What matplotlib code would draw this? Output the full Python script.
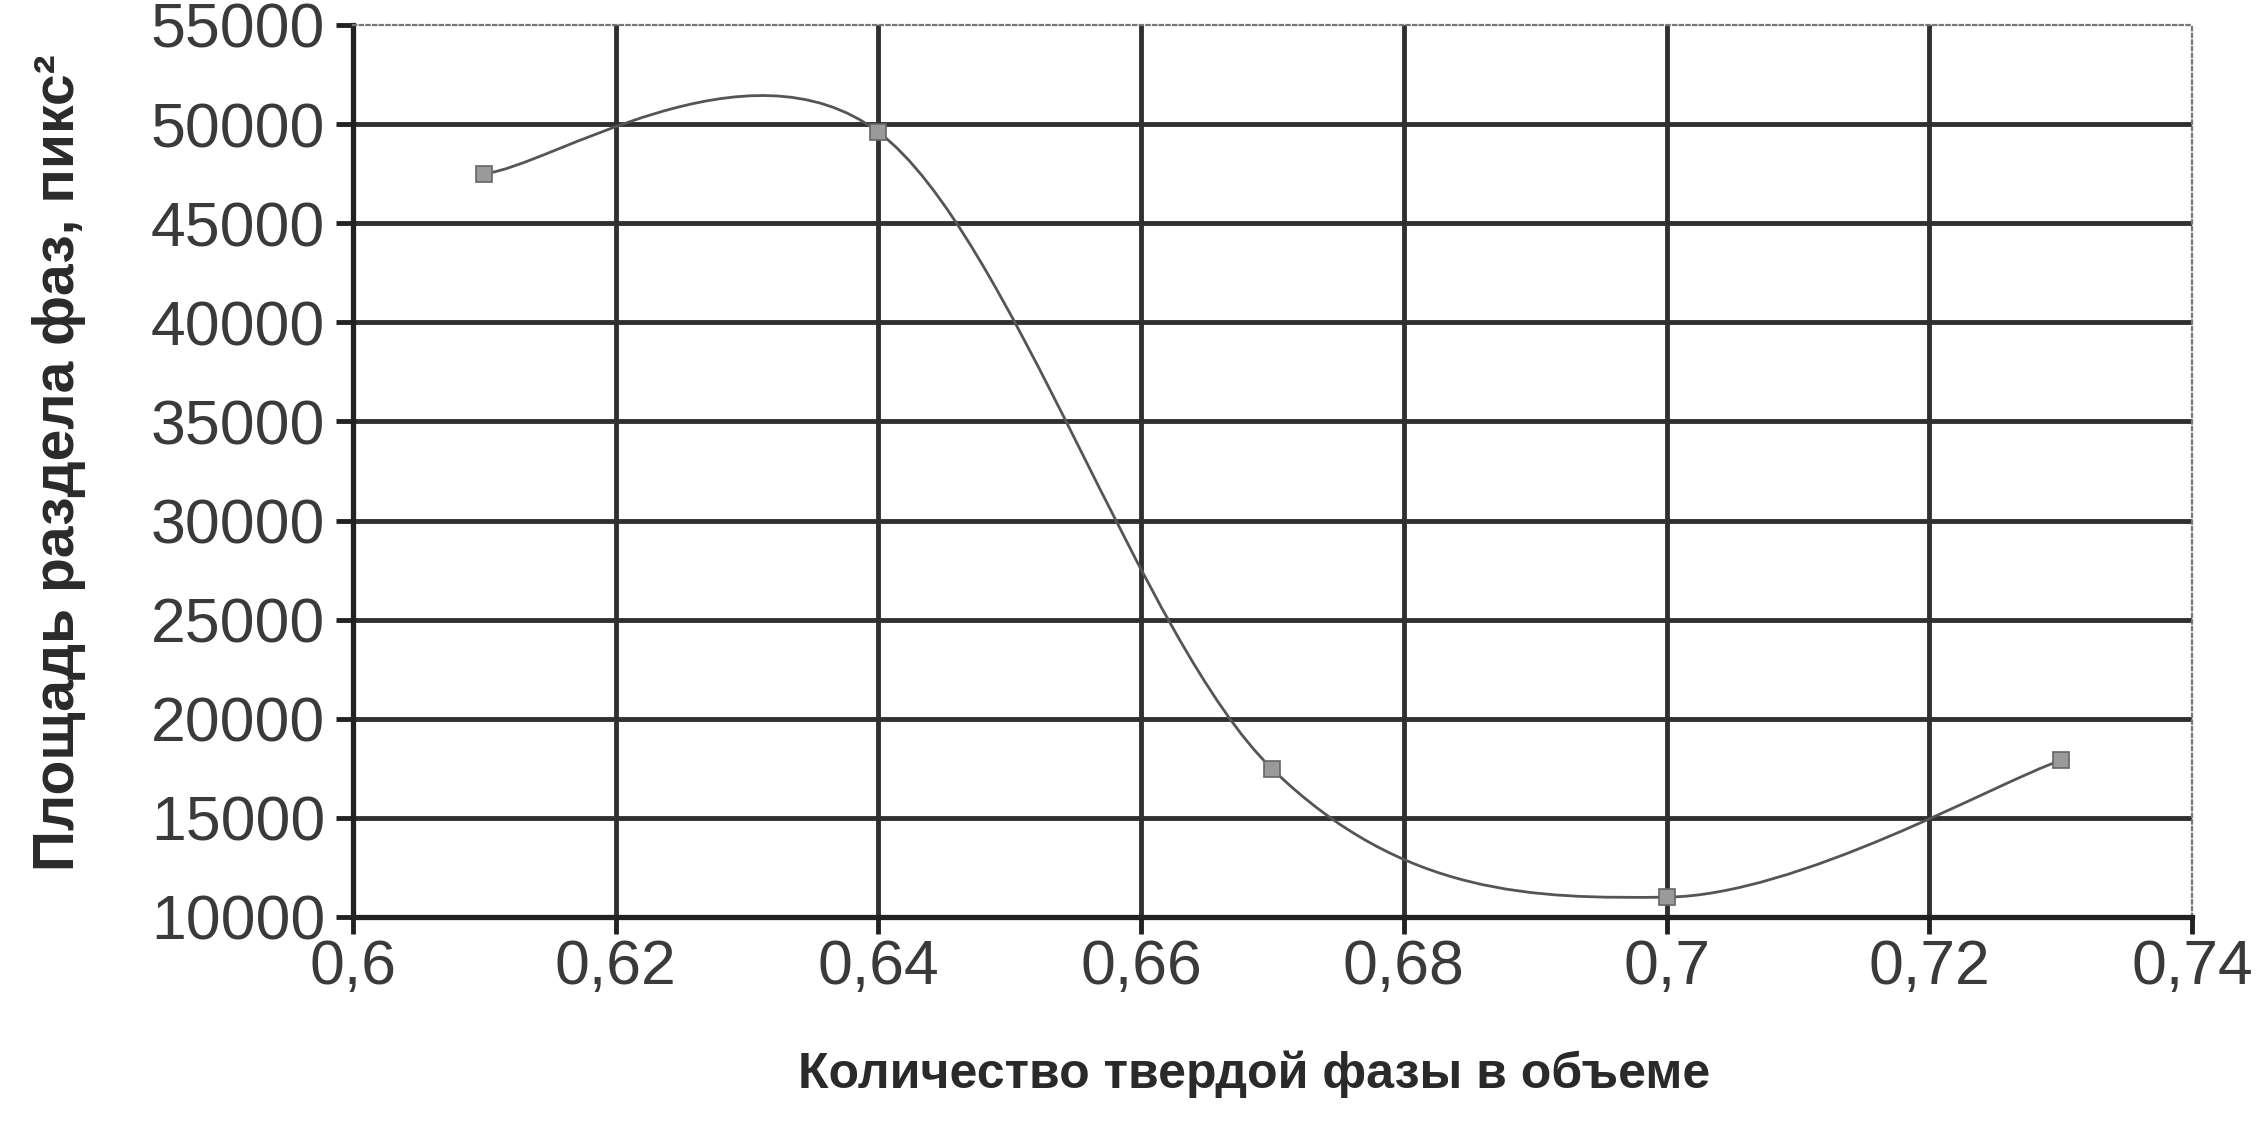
import numpy as np
import matplotlib
matplotlib.use("Agg")
import matplotlib.pyplot as plt
from matplotlib.path import Path
from matplotlib.patches import PathPatch

# data
solid_frac = [0.61, 0.64, 0.67, 0.70, 0.73]
area_px = [47500, 49600, 17450, 11000, 17900]

x_ticks = [0.60, 0.62, 0.64, 0.66, 0.68, 0.70, 0.72, 0.74]
x_labels = ["0,6", "0,62", "0,64", "0,66", "0,68", "0,7", "0,72", "0,74"]
y_ticks = [10000, 15000, 20000, 25000, 30000, 35000, 40000, 45000, 50000, 55000]

x_title = "Количество твердой фазы в объеме"
y_title = "Площадь раздела фаз, пикс²"


# Excel-like smoothed line: cubic Bezier segments through the points
def smooth_path(xs, ys):
    p = np.column_stack([xs, ys]).astype(float)
    n = len(p)
    verts = [p[0]]
    codes = [Path.MOVETO]
    for i in range(n - 1):
        prev = p[i - 1] if i > 0 else p[i]
        nxt = p[i + 2] if i + 2 < n else p[i + 1]
        c1 = p[i] + (p[i + 1] - prev) / 6.0
        c2 = p[i + 1] - (nxt - p[i]) / 6.0
        verts += [c1, c2, p[i + 1]]
        codes += [Path.CURVE4] * 3
    return Path(verts, codes)


plt.rcParams['font.family'] = ['Liberation Sans', 'DejaVu Sans']

fig = plt.figure(figsize=(22.61, 11.21), dpi=100)
ax = fig.add_axes([0.1561, 0.1820, 0.8134, 0.7957])

grid_col = '#303030'
ax.set_xlim(0.60, 0.74)
ax.set_ylim(10000, 55000)
ax.set_xticks(x_ticks)
ax.set_xticklabels(x_labels)
ax.set_yticks(y_ticks)
ax.set_yticklabels([str(v) for v in y_ticks])

ax.grid(True, color=grid_col, linewidth=3.5)
ax.set_axisbelow(True)
# top / right borders are dotted, no grid line over them
ax.yaxis.get_gridlines()[-1].set_visible(False)
ax.xaxis.get_gridlines()[-1].set_visible(False)

for s in ['left', 'bottom']:
    ax.spines[s].set_color('#222222')
    ax.spines[s].set_linewidth(3.8)
for s in ['top', 'right']:
    ax.spines[s].set_color('#777777')
    ax.spines[s].set_linewidth(1.6)
    ax.spines[s].set_linestyle((0, (1.5, 1.5)))

ax.tick_params(axis='both', direction='out', length=12, width=3.5,
               color='#222222', labelsize=45, labelcolor='#3a3a3a')
ax.tick_params(axis='y', pad=8)
ax.tick_params(axis='x', pad=3)

curve = PathPatch(smooth_path(solid_frac, area_px), fill=False,
                  edgecolor='#555555', linewidth=2, zorder=3)
ax.add_patch(curve)
ax.plot(solid_frac, area_px, linestyle='none', marker='s', markersize=11,
        markerfacecolor='#9a9a9a', markeredgecolor='#666666',
        markeredgewidth=1.2, zorder=4)

ax.set_xlabel(x_title, fontsize=36, fontweight='bold', color='#2a2a2a')
ax.set_ylabel(y_title, fontsize=41, fontweight='bold', color='#2a2a2a')
ax.xaxis.set_label_coords(0.49, -0.150)
ax.yaxis.set_label_coords(-0.145, 0.509)

fig.savefig("out.png", dpi=100)
